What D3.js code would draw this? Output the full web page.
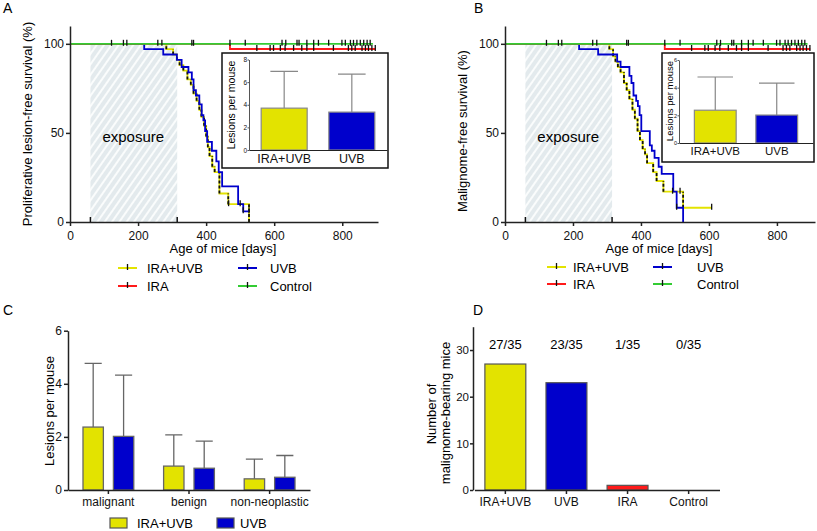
<!DOCTYPE html>
<html>
<head>
<meta charset="utf-8">
<script src="https://cdn.jsdelivr.net/npm/d3@7"></script>
<style>
body { margin: 0; background: #fff; }
svg { display: block; font-family: "Liberation Sans", Arial, sans-serif; }
</style>
</head>
<body>
<script>
// ---------- data ----------
var groups = ["IRA+UVB", "UVB", "IRA", "Control"];
var colors = { "IRA+UVB": "#e3e300", "UVB": "#0000cc", "IRA": "#ff1a1a", "Control": "#33cc33" };
var exposureDays = [60, 315];

// Kaplan-Meier steps [day, % free]; last entry = end of follow-up
var aIraUvb = [[0,100],[283,97],[303,94],[314,91],[322,88],[333,85],[345,80],[355,77],[363,72],[372,68],[380,63],[386,59],[394,54],[400,48],[405,42],[410,37],[418,31],[425,28],[439,16],[465,10],[526,0]];
var aUvb = [[0,100],[218,97],[274,94],[314,91],[328,87],[348,84],[358,80],[363,74],[370,71],[380,66],[387,60],[392,57],[397,51],[403,45],[417,40],[430,34],[437,28],[447,20],[494,10],[509,6],[526,6]];
var aIra = [[0,100],[470,97.1],[898,97.1]];
var aControl = [[0,100],[890,100]];
var aControlCensor = [122,157,167,258,270,358,363,470,515,623,634,667,673,696,716,730,760,799,809,824,833,843,853,863,873,882];
var aIraCensor = [549,588,598,618,632,657,681,696,716,774,818,828,838,858,868,877,887,897];
var aUvbCensor = [[509,6],[526,6]];
var aIraUvbCensor = [[466,10],[500,10]];

var bIraUvb = [[0,100],[307,97],[318,93],[325,90],[332,87],[340,84],[350,78],[358,74],[366,69],[375,63],[382,58],[390,51],[397,46],[405,41],[412,38],[418,33],[436,28],[446,23],[466,17],[524,8],[608,8]];
var bUvb = [[0,100],[218,97],[274,94],[330,90],[340,87],[366,82],[372,78],[378,71],[386,68],[391,65],[396,60],[401,51],[426,43],[432,40],[440,36],[452,31],[461,27],[495,17],[505,8],[524,0]];
var bIra = [[0,100],[470,97.1],[898,97.1]];
var bControl = [[0,100],[890,100]];
var bControlCensor = aControlCensor;
var bIraCensor = aIraCensor;
var bUvbCensor = [[505,8]];
var bIraUvbCensor = [[493,17],[515,17],[608,8]];

// lesions per mouse (mean, SD)
var insetAMean = [3.7, 3.35];
var insetASd = [3.25, 3.35];
var lesionTypes = ["malignant", "benign", "non-neoplastic"];
var iraUvbMean = [2.37, 0.9, 0.42];
var iraUvbSd = [2.4, 1.18, 0.74];
var uvbMean = [2.02, 0.82, 0.48];
var uvbSd = [2.31, 1.02, 0.82];

// malignome-bearing mice
var dCounts = [27, 23, 1, 0];
var dTotal = 35;

// ---------- svg ----------
var svg = d3.select("body").append("svg")
    .attr("width", 817)
    .attr("height", 531);

var pat = svg.append("defs").append("pattern")
    .attr("id", "hatch")
    .attr("patternUnits", "userSpaceOnUse")
    .attr("width", 6).attr("height", 6)
    .attr("patternTransform", "rotate(35)");
pat.append("rect").attr("width", 6).attr("height", 6).attr("fill", "#e3eaed");
pat.append("line").attr("x1", 3).attr("y1", 0).attr("x2", 3).attr("y2", 6)
    .attr("stroke", "#fafcfc").attr("stroke-width", 2);

var intFmt = d3.format("d");

function styleAxis(g, size) {
    g.attr("font-family", null).attr("font-size", size);
    g.select(".domain").attr("stroke", "#222").attr("stroke-width", 1.5);
    g.selectAll(".tick line").attr("stroke", "#222").attr("stroke-width", 1.5);
    g.selectAll(".tick text").attr("fill", "#111");
}

function drawSurvival(cfg) {
    var g = svg.append("g");
    var x = d3.scaleLinear().domain([0, cfg.maxDay]).range([cfg.left, cfg.right]);
    var y = d3.scaleLinear().domain([0, 110]).range([222, 26]);

    g.append("rect")
        .attr("x", x(exposureDays[0]))
        .attr("width", x(exposureDays[1]) - x(exposureDays[0]))
        .attr("y", y(100))
        .attr("height", y(0) - y(100))
        .attr("fill", "url(#hatch)");
    g.append("text")
        .attr("x", x(186)).attr("y", 142)
        .attr("text-anchor", "middle")
        .attr("font-size", 15)
        .text("exposure");

    var line = d3.line()
        .x(function(d) { return x(d[0]); })
        .y(function(d) { return y(d[1]); })
        .curve(d3.curveStepAfter);

    g.append("path").datum(cfg.iraUvb)
        .attr("d", line).attr("fill", "none")
        .attr("stroke", colors["IRA+UVB"]).attr("stroke-width", 1.8);
    // the drops of IRA+UVB look dashed black
    g.selectAll(".drop").data(cfg.iraUvb.slice(1).filter(function(d, i) { return d[1] != cfg.iraUvb[i][1]; }))
        .enter().append("line")
        .attr("x1", function(d) { return x(d[0]); })
        .attr("x2", function(d) { return x(d[0]); })
        .attr("y1", function(d) { return y(d[1]); })
        .attr("y2", function(d) {
            var i = cfg.iraUvb.indexOf(d);
            return y(cfg.iraUvb[i - 1][1]);
        })
        .attr("stroke", "#111").attr("stroke-width", 1.8)
        .attr("stroke-dasharray", "3,2");
    g.append("path").datum(cfg.uvb)
        .attr("d", line).attr("fill", "none")
        .attr("stroke", colors["UVB"]).attr("stroke-width", 1.8);
    g.append("path").datum(cfg.ira)
        .attr("d", line).attr("fill", "none")
        .attr("stroke", colors["IRA"]).attr("stroke-width", 1.8);
    g.append("path").datum(cfg.control)
        .attr("d", line).attr("fill", "none")
        .attr("stroke", colors["Control"]).attr("stroke-width", 1.8);

    // censor ticks
    var censors = cfg.controlCensor.map(function(d) { return [d, 100]; })
        .concat(cfg.iraCensor.map(function(d) { return [d, 97.1]; }))
        .concat(cfg.uvbCensor, cfg.iraUvbCensor);
    g.selectAll(".censor").data(censors)
        .enter().append("line")
        .attr("x1", function(d) { return x(d[0]); })
        .attr("x2", function(d) { return x(d[0]); })
        .attr("y1", function(d) { return y(d[1]) - 4; })
        .attr("y2", function(d) { return y(d[1]) + 2; })
        .attr("stroke", "#111").attr("stroke-width", 1.3);

    // axes
    var ax = g.append("g").attr("transform", "translate(0," + y(0) + ")")
        .call(d3.axisBottom(x).tickValues([0, 200, 400, 600, 800]).tickSize(4).tickSizeOuter(0).tickPadding(5));
    styleAxis(ax, 12);
    var ay = g.append("g").attr("transform", "translate(" + cfg.left + ",0)")
        .call(d3.axisLeft(y).tickValues([0, 50, 100]).tickSize(4).tickSizeOuter(0).tickPadding(2));
    styleAxis(ay, 12);
    g.selectAll(".expTick").data(exposureDays)
        .enter().append("line")
        .attr("x1", function(d) { return x(d); })
        .attr("x2", function(d) { return x(d); })
        .attr("y1", y(0)).attr("y2", y(0) - 5)
        .attr("stroke", "#111").attr("stroke-width", 1.5);

    g.append("text")
        .attr("x", (cfg.left + cfg.right) / 2 - 1).attr("y", 253)
        .attr("text-anchor", "middle").attr("font-size", 13)
        .text("Age of mice [days]");
    g.append("text")
        .attr("transform", "translate(" + cfg.titleX + "," + cfg.titleY + ") rotate(-90)")
        .attr("text-anchor", "middle").attr("font-size", 13)
        .text(cfg.title);

    // inset bar chart
    var ins = cfg.inset;
    g.append("rect")
        .attr("x", ins.box[0]).attr("y", ins.box[1])
        .attr("width", ins.box[2] - ins.box[0]).attr("height", ins.box[3] - ins.box[1])
        .attr("fill", "#fff").attr("stroke", "#111").attr("stroke-width", 1.5);
    var ix = d3.scaleBand().domain(["IRA+UVB", "UVB"])
        .range([ins.axisX, ins.box[2] - 1]).paddingInner(0.32).paddingOuter(ins.outer);
    var iy = d3.scaleLinear().domain([0, ins.max]).range([ins.y0, ins.yTop]);
    var bars = ins.mean.map(function(m, i) { return { g: ix.domain()[i], m: m, sd: ins.sd[i] }; });
    g.selectAll(".ierr").data(bars).enter().append("path")
        .attr("d", function(d) {
            var cx = ix(d.g) + ix.bandwidth() / 2, hw = ix.bandwidth() * ins.cap / 2;
            return "M" + cx + "," + iy(d.m) + "V" + iy(d.m + d.sd) + "M" + (cx - hw) + "," + iy(d.m + d.sd) + "H" + (cx + hw);
        })
        .attr("stroke", "#888").attr("stroke-width", 1.2).attr("fill", "none");
    g.selectAll(".ibar").data(bars).enter().append("rect")
        .attr("x", function(d) { return ix(d.g); })
        .attr("width", ix.bandwidth())
        .attr("y", function(d) { return iy(d.m); })
        .attr("height", function(d) { return iy(0) - iy(d.m); })
        .attr("fill", function(d) { return colors[d.g]; })
        .attr("stroke", "#888").attr("stroke-width", 1.2);
    var iay = g.append("g").attr("transform", "translate(" + ins.axisX + ",0)")
        .call(d3.axisLeft(iy).ticks(ins.max / 2).tickFormat(intFmt).tickSize(1.5).tickSizeOuter(0).tickPadding(0.5));
    styleAxis(iay, ins.tickSize);
    iay.select(".domain").attr("stroke", "#555").attr("stroke-width", 1);
    iay.selectAll(".tick line").attr("stroke", "#555").attr("stroke-width", 1);
    var iax = g.append("g").attr("transform", "translate(0," + ins.y0 + ")")
        .call(d3.axisBottom(ix).tickSize(0).tickSizeOuter(0).tickPadding(ins.labelPad));
    styleAxis(iax, ins.labelSize);
    iax.select(".domain").attr("stroke-width", 1.2);
    g.append("text")
        .attr("transform", "translate(" + ins.titleX + "," + ins.titleY + ") rotate(-90)")
        .attr("text-anchor", "middle").attr("font-size", ins.titleSize)
        .text("Lesions per mouse");

    // legend, column-wise: IRA+UVB, IRA | UVB, Control
    var order = [0, 2, 1, 3];
    var leg = g.selectAll(".leg").data(groups).enter().append("g")
        .attr("transform", function(d, i) {
            var k = order.indexOf(i);
            return "translate(" + cfg.legX[Math.floor(k / 2)] + "," + cfg.legY[k % 2] + ")";
        });
    leg.append("line").attr("x1", 0).attr("x2", 19).attr("y1", 0).attr("y2", 0)
        .attr("stroke", function(d) { return colors[d]; }).attr("stroke-width", 2);
    leg.append("line").attr("x1", 9.5).attr("x2", 9.5).attr("y1", -4).attr("y2", 2)
        .attr("stroke", "#111").attr("stroke-width", 1.3);
    leg.append("text")
        .attr("x", function(d, i) { return order.indexOf(i) < 2 ? cfg.legText[0] : cfg.legText[1]; })
        .attr("y", 5).attr("font-size", 13)
        .text(function(d) { return d; });
}

drawSurvival({
    left: 70, right: 378, maxDay: 905,
    iraUvb: aIraUvb, uvb: aUvb, ira: aIra, control: aControl,
    controlCensor: aControlCensor, iraCensor: aIraCensor,
    uvbCensor: aUvbCensor, iraUvbCensor: aIraUvbCensor,
    title: "Proliferative lesion-free survival (%)", titleX: 32, titleY: 124,
    inset: { box: [222, 53, 388, 168], axisX: 249, y0: 150, yTop: 59.5, max: 8, outer: 0.18,
             mean: insetAMean, sd: insetASd, cap: 0.6, labelSize: 12.5, labelPad: 4, tickSize: 6.5,
             titleX: 235, titleY: 105, titleSize: 10.5 },
    legX: [118, 238], legY: [268, 286], legText: [29, 32]
});

drawSurvival({
    left: 505, right: 815, maxDay: 912,
    iraUvb: bIraUvb, uvb: bUvb, ira: bIra, control: bControl,
    controlCensor: bControlCensor, iraCensor: bIraCensor,
    uvbCensor: bUvbCensor, iraUvbCensor: bIraUvbCensor,
    title: "Malignome-free survival (%)", titleX: 467, titleY: 131,
    inset: { box: [662, 53, 814, 162], axisX: 679, y0: 143, yTop: 60, max: 6, outer: 0.25,
             mean: [iraUvbMean[0], uvbMean[0]], sd: [iraUvbSd[0], uvbSd[0]], cap: 0.85, labelSize: 11.5, labelPad: 4, tickSize: 5.5,
             titleX: 673, titleY: 101, titleSize: 9.5 },
    legX: [547, 653], legY: [267, 284], legText: [26, 44]
});

// ---------- panel C ----------
var cx0 = d3.scaleBand().domain(lesionTypes).range([68, 310]).paddingInner(0.37).paddingOuter(0.186);
var cx1 = d3.scaleBand().domain(["IRA+UVB", "UVB"]).range([0, cx0.bandwidth()]).paddingInner(0.33);
var cy = d3.scaleLinear().domain([0, 6]).range([490, 330.7]);
var cData = [];
lesionTypes.forEach(function(t, i) {
    cData.push({ t: t, g: "IRA+UVB", m: iraUvbMean[i], sd: iraUvbSd[i] });
    cData.push({ t: t, g: "UVB", m: uvbMean[i], sd: uvbSd[i] });
});
var gc = svg.append("g");
gc.selectAll(".cerr").data(cData).enter().append("path")
    .attr("d", function(d) {
        var x = cx0(d.t) + cx1(d.g) + cx1.bandwidth() / 2, hw = cx1.bandwidth() * 0.42;
        return "M" + x + "," + cy(d.m) + "V" + cy(d.m + d.sd) + "M" + (x - hw) + "," + cy(d.m + d.sd) + "H" + (x + hw);
    })
    .attr("stroke", "#666").attr("stroke-width", 1.3).attr("fill", "none");
gc.selectAll(".cbar").data(cData).enter().append("rect")
    .attr("x", function(d) { return cx0(d.t) + cx1(d.g); })
    .attr("width", cx1.bandwidth())
    .attr("y", function(d) { return cy(d.m); })
    .attr("height", function(d) { return cy(0) - cy(d.m); })
    .attr("fill", function(d) { return colors[d.g]; })
    .attr("stroke", "#666").attr("stroke-width", 1.3);
var cax = gc.append("g").attr("transform", "translate(0,490)")
    .call(d3.axisBottom(cx0).tickSize(4).tickSizeOuter(0).tickPadding(3));
styleAxis(cax, 12);
var cay = gc.append("g").attr("transform", "translate(68,0)")
    .call(d3.axisLeft(cy).tickValues([0, 2, 4, 6]).tickFormat(intFmt).tickSize(4).tickSizeOuter(0).tickPadding(2));
styleAxis(cay, 12);
gc.append("text")
    .attr("transform", "translate(54,411) rotate(-90)")
    .attr("text-anchor", "middle").attr("font-size", 13)
    .text("Lesions per mouse");
var cleg = gc.selectAll(".cleg").data(["IRA+UVB", "UVB"]).enter().append("g")
    .attr("transform", function(d, i) { return "translate(" + [110, 217][i] + ",518)"; });
cleg.append("rect").attr("width", 17).attr("height", 10)
    .attr("fill", function(d) { return colors[d]; })
    .attr("stroke", "#555").attr("stroke-width", 1.2);
cleg.append("text").attr("x", function(d, i) { return [27, 23][i]; }).attr("y", 10)
    .attr("font-size", 13).text(function(d) { return d; });

// ---------- panel D ----------
var dx = d3.scaleBand().domain(groups).range([474.5, 719.5]).paddingInner(0.33).paddingOuter(0.17);
var dy = d3.scaleLinear().domain([0, 35]).range([490, 326.7]);
var gd = svg.append("g");
gd.selectAll(".dbar").data(groups).enter().append("rect")
    .attr("x", function(d) { return dx(d); })
    .attr("width", dx.bandwidth())
    .attr("y", function(d, i) { return dy(dCounts[i]); })
    .attr("height", function(d, i) { return dy(0) - dy(dCounts[i]); })
    .attr("fill", function(d) { return colors[d]; })
    .attr("stroke", "#555").attr("stroke-width", 1.2)
    .style("display", function(d, i) { return dCounts[i] > 0 ? null : "none"; });
gd.selectAll(".dlab").data(groups).enter().append("text")
    .attr("x", function(d) { return dx(d) + dx.bandwidth() / 2; })
    .attr("y", 349)
    .attr("text-anchor", "middle").attr("font-size", 13)
    .text(function(d, i) { return dCounts[i] + "/" + dTotal; });
var dax = gd.append("g").attr("transform", "translate(0,490)")
    .call(d3.axisBottom(dx).tickSize(4).tickSizeOuter(0).tickPadding(3));
styleAxis(dax, 12);
var day = gd.append("g").attr("transform", "translate(473,0)")
    .call(d3.axisLeft(dy).tickValues([0, 10, 20, 30]).tickFormat(intFmt).tickSize(3).tickSizeOuter(0).tickPadding(1));
styleAxis(day, 11.5);
gd.append("text")
    .attr("transform", "translate(436,414) rotate(-90)")
    .attr("text-anchor", "middle").attr("font-size", 13)
    .text("Number of");
gd.append("text")
    .attr("transform", "translate(450,413) rotate(-90)")
    .attr("text-anchor", "middle").attr("font-size", 13)
    .text("malignome-bearing mice");

// panel letters
svg.selectAll(".letter").data([["A", 3, 13], ["B", 474, 13], ["C", 3, 315], ["D", 473, 315]])
    .enter().append("text")
    .attr("x", function(d) { return d[1]; })
    .attr("y", function(d) { return d[2]; })
    .attr("font-size", 14)
    .text(function(d) { return d[0]; });
</script>
</body>
</html>
